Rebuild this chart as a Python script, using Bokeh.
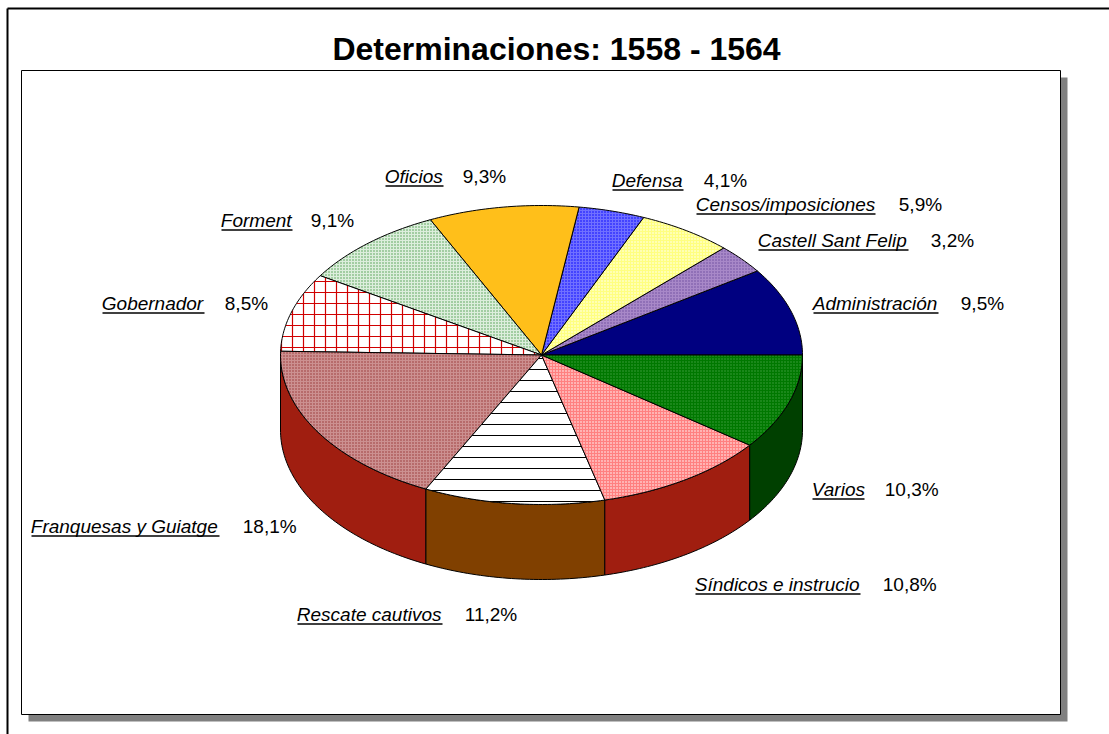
import math
from bokeh.plotting import figure
from bokeh.embed import file_html
from bokeh.resources import INLINE
from bokeh.core.properties import value

title = "Determinaciones: 1558 - 1564"
categories = ["Administración", "Castell Sant Felip", "Censos/imposiciones", "Defensa", "Oficios",
              "Forment", "Gobernador", "Franquesas y Guiatge", "Rescate cautivos",
              "Síndicos e instrucio", "Varios"]
percent = [9.5, 3.2, 5.9, 4.1, 9.3, 9.1, 8.5, 18.1, 11.2, 10.8, 10.3]

# styles
top_fill = ["#000080", "#A888C8", "#FFFF80", "#7070FF", "#FFBF1A", "#DCEEDC", "#FFFFFF",
            "#CC9090", "#FFFFFF", "#FF8080", "#007800"]
hatch = [None, "dot", "dot", "dot", None, "dot", "cross", "dot", "horizontal_line", "dot", "dot"]
hatch_col = ["#000000", "#6A4A9C", "#FFFFFF", "#0000FF", "#000000", "#4A9A4A", "#D00000", "#993333",
             "#000000", "#FFFFFF", "#40A040"]
hatch_scale = [4, 3, 3, 3, 4, 3, 11, 3, 11, 3, 3]
hatch_weight = [1, 1, 1, 1, 1, 1, 1.2, 1, 1, 1, 1]
wall_col = ["#000080", "#9878BC", "#FFFF80", "#6A6AFF", "#FFBF1A", "#B0D8B0", "#A01E10",
            "#A01E10", "#804000", "#A01E10", "#004000"]

# label layout: left of name, right edge of name, left of percent, middle y
name_x0 = [813, 758, 696, 612, 385, 221, 102, 31, 297, 695, 812]
name_x1 = [938, 908, 875, 683, 443, 292, 204, 219, 442, 860, 864]
pct_x = [961, 931, 899, 704, 463, 311, 225, 243, 465, 883, 885]
mid_y = [303, 240, 204, 180, 176, 220, 303, 526, 614, 584, 489]

CX, CY, RX, RY, DEPTH = 541, 354.5, 261, 149.5, 75
TEXT_NUDGE = -0.7

p = figure(width=1109, height=734, output_backend="svg", toolbar_location=None,
           x_range=(0, 1109), y_range=(734, 0), min_border=0, outline_line_color=None,
           margin=(0, 0, 0, 0))
p.xaxis.visible = False
p.yaxis.visible = False
p.grid.visible = False

# outer frame, shadow, plot frame
p.segment([7, 7], [8, 8], [7, 1109], [734, 8], line_color="black", line_width=2)
p.quad(left=[28], right=[1067], top=[77], bottom=[721], fill_color="#808080", line_color=None)
p.quad(left=[21], right=[1060], top=[70], bottom=[714], fill_color="white", line_color="black", line_width=1)

p.text([556], [48], text=[title], text_font=value("Liberation Sans"), text_font_style="bold",
       text_font_size="32px", text_align="center", text_baseline="middle", text_color="black")


def pt(deg, dy=0):
    r = math.radians(deg)
    return CX + RX * math.cos(r), CY - RY * math.sin(r) + dy


edges = [0.0]
for v in percent:
    edges.append(edges[-1] + v)
total = edges[-1]
angles = [e / total * 360 for e in edges]

# walls: only the front half of the rim is seen
for i in range(len(percent)):
    a0 = max(angles[i], 180)
    a1 = angles[i + 1]
    if a1 <= a0:
        continue
    n = max(2, int(a1 - a0) + 1)
    arc = [a0 + (a1 - a0) * k / n for k in range(n + 1)]
    xy = [pt(a) for a in arc] + [pt(a, DEPTH) for a in reversed(arc)]
    p.patch([q[0] for q in xy], [q[1] for q in xy], fill_color=wall_col[i], line_color="black", line_width=1)

# tops
for i in range(len(percent)):
    a0, a1 = angles[i], angles[i + 1]
    n = max(2, int(a1 - a0) + 1)
    xy = [(CX, CY)] + [pt(a0 + (a1 - a0) * k / n) for k in range(n + 1)]
    kw = {}
    if hatch[i]:
        kw = dict(hatch_pattern=hatch[i], hatch_color=hatch_col[i], hatch_scale=hatch_scale[i],
                  hatch_weight=hatch_weight[i])
    p.patch([q[0] for q in xy], [q[1] for q in xy], fill_color=top_fill[i], line_color="black",
            line_width=1, **kw)

# labels
p.text([x + TEXT_NUDGE for x in name_x0], [y - 0.5 for y in mid_y], text=categories,
       text_font=value("Liberation Sans"), text_font_style="italic",
       text_font_size="19px", text_baseline="middle", text_color="black")
p.text([x + TEXT_NUDGE for x in pct_x], [y - 0.5 for y in mid_y],
       text=[f"{v:.1f}%".replace(".", ",") for v in percent],
       text_font=value("Liberation Sans"), text_font_size="19px", text_baseline="middle", text_color="black")
p.segment(name_x0, [y + 9.5 for y in mid_y], name_x1, [y + 9.5 for y in mid_y], line_color="black", line_width=1.5)

open("out.html", "w").write(file_html(p, INLINE))
